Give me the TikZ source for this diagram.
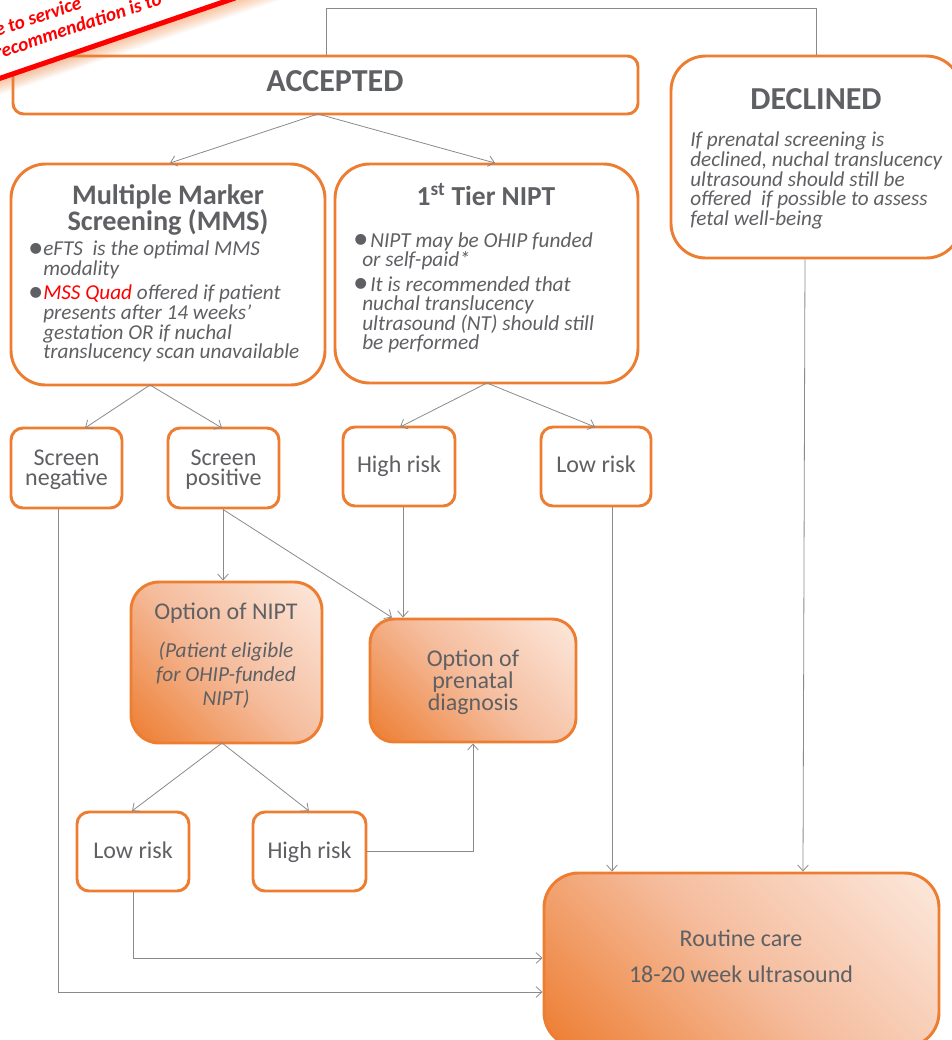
\documentclass[tikz,border=0pt]{standalone}
\usepackage{fontspec}
\setmainfont{Carlito}
\usetikzlibrary{arrows.meta,calc}
\def\u{0.75pt}
\definecolor{org}{HTML}{ED7D31}
\definecolor{lite}{HTML}{FCE8DC}
\definecolor{midc}{HTML}{F5BD9E}
\definecolor{txt}{HTML}{5F6063}
\definecolor{ln}{HTML}{8A8A8A}
\definecolor{rd}{HTML}{FF0000}
\pgfdeclareverticalshading{diagsh}{100bp}{color(0bp)=(org); color(15bp)=(org); color(50bp)=(midc); color(85bp)=(lite); color(100bp)=(lite)}
\newcommand{\pts}[2]{\fontsize{#1}{#2}\selectfont}
\newcommand{\bul}{{\pts{23}{23}\raisebox{-1pt}{•}}}
\newcommand{\fbul}{\hspace*{-7pt}\makebox[13pt][l]{\bul}}
\tikzset{
 boxa/.style={draw=org,line width=2.2pt,fill=white,inner sep=0pt,text=txt,align=center},
 shd/.style={draw=org,line width=2.2pt,inner sep=0pt,text=txt,align=center,shading=diagsh,shading angle=-45},
 small/.style={font=\pts{18}{15}},
 lab/.style={text=txt,inner sep=0pt,align=left},
 clab/.style={text=txt,inner sep=0pt,align=center},
 conn/.style={draw=ln,line width=0.6pt},
 arr/.style={conn,-{Straight Barb[length=4.5pt,width=8pt,line width=0.6pt]}}
}
\begin{document}
\begin{tikzpicture}[x=0.75pt,y=-0.75pt]
\useasboundingbox (0,0) rectangle (951,1040);
\coordinate (accapex) at (318,114);
\coordinate (mmsapex) at (150,385);
\coordinate (tierapex) at (487,383);
\coordinate (optapex) at (222,743);
% boxes
\node[boxa,rounded corners=8pt,minimum width=625*\u,minimum height=58*\u] (acc) at (325.5,85) {};
\node[boxa,rounded corners=26pt,minimum width=290*\u,minimum height=202*\u] (dec) at (816,157) {};
\node[boxa,rounded corners=26pt,minimum width=314*\u,minimum height=221*\u] (mms) at (168,274.5) {};
\node[boxa,rounded corners=26pt,minimum width=303*\u,minimum height=219*\u] (tier) at (486.5,273.5) {};
\node[boxa,rounded corners=9pt,minimum width=111*\u,minimum height=80*\u] (sneg) at (66.5,468) {};
\node[boxa,rounded corners=9pt,minimum width=111*\u,minimum height=80*\u] (spos) at (223.5,468) {};
\node[boxa,rounded corners=9pt,minimum width=112*\u,minimum height=79*\u] (hr1) at (399,466.5) {};
\node[boxa,rounded corners=9pt,minimum width=110*\u,minimum height=79*\u] (lr1) at (596,466.5) {};
\node[shd,rounded corners=21pt,minimum width=191*\u,minimum height=161*\u] (opt) at (226.5,662.5) {};
\node[shd,rounded corners=18pt,minimum width=206*\u,minimum height=123*\u] (pre) at (473,680.5) {};
\node[boxa,rounded corners=9pt,minimum width=112*\u,minimum height=79*\u] (lr2) at (133,851.5) {};
\node[boxa,rounded corners=9pt,minimum width=113*\u,minimum height=79*\u] (hr2) at (309.5,851.5) {};
\node[shd,rounded corners=26pt,minimum width=395*\u,minimum height=174*\u] (rc) at (741.5,960) {};
% text labels
\node[clab,small] (snegT) at (66.5,470) {Screen\\negative};
\node[clab,small] (sposT) at (223.5,470) {Screen\\positive};
\node[clab,small] (hr1T) at (399,466) {High risk};
\node[clab,small] (lr1T) at (596,464.5) {Low risk};
\node[clab,small] (lr2T) at (133,850.5) {Low risk};
\node[clab,small] (hr2T) at (309.5,852) {High risk};
\node[clab,font=\pts{18}{16.5}] (preT) at (473,682) {Option of\\prenatal\\diagnosis};
\node[clab,font=\pts{24}{24}\bfseries] (accT) at (335,81) {ACCEPTED};
\node[clab,font=\pts{24}{24}\bfseries] (decT) at (816,99) {DECLINED};
\node[lab,anchor=north west,font=\pts{15.9}{14.7}\itshape] (decB) at (690,132) {If prenatal screening is\\declined, nuchal translucency\\ultrasound should still be\\offered\ \ if possible to assess\\fetal well-being};
\node[clab,font=\pts{21.2}{19.5}\bfseries] (mmsT) at (168,210) {Multiple Marker\\Screening (MMS)};
\node[lab,anchor=north west,font=\pts{15.9}{14.7}\itshape] (mmsB1) at (43,241) {\llap{\bul}eFTS\ \ is the optimal MMS\\modality};
\node[lab,anchor=north west,font=\pts{15.9}{14.7}\itshape] (mmsB2) at (43,285) {\llap{\bul}\textcolor{rd}{MSS Quad} offered if patient\\presents after 14 weeks’\\gestation OR if nuchal\\translucency scan unavailable};
\node[clab,font=\pts{20.6}{20.6}\bfseries] (tierT) at (486,195) {1\textsuperscript{st} Tier NIPT};
\node[lab,anchor=north west,font=\pts{16}{14.7}\itshape] (tierB1) at (362,232) {\fbul NIPT may be OHIP funded\\or self-paid*};
\node[lab,anchor=north west,font=\pts{16}{14.7}\itshape] (tierB2) at (362,276) {\fbul It is recommended that\\nuchal translucency\\ultrasound (NT) should still\\be performed};
\node[clab,font=\pts{18}{18}] (optT) at (226,613) {Option of NIPT};
\node[clab,font=\pts{16}{18}\itshape] (optB) at (226,675) {(Patient eligible\\for OHIP-funded\\NIPT)};
\node[clab,font=\pts{18}{27}] (rcT) at (741,956) {Routine care\\18-20 week ultrasound};
% connectors
\draw[conn] ([xshift=0.5*\u]acc.north) -- (326,8) -| (dec.north);
\draw[arr] (accapex) -- (170,163);
\draw[arr] (accapex) -- (495,163);
\draw[arr] (mmsapex) -- (85,428);
\draw[arr] (mmsapex) -- (222,428);
\draw[arr] (tierapex) -- (400,427);
\draw[arr] (tierapex) -- (595,427);
\draw[arr] (spos.south -| 223,0) -- (opt.north -| 223,0);
\draw[arr] (spos.south -| 223,0) -- ([xshift=-81*\u]pre.north);
\draw[arr] (hr1.south -| 403,0) -- (pre.north -| 403,0);
\draw[arr] (lr1.south -| 612,0) -- (rc.north -| 612,0);
\draw[arr] (dec.south -| 805,0) -- (rc.north -| 803,0);
\draw[arr] (optapex) -- (132,811);
\draw[arr] (optapex) -- (309,811);
\draw[arr] (hr2.east) -| (pre.south);
\draw[arr] (lr2.south) |- (rc.west |- 0,958);
\draw[arr] (sneg.south -| 58,0) |- (rc.west |- 0,992);
% banner
\fill[white] (-5,80) -- (235,-2) -- (-5,-2) -- cycle;
\begin{scope}[shift={(0,78)},rotate=18.7]
 \foreach \i in {2,3,...,16}{\fill[org,opacity=0.04] (-10,0) rectangle (300,\i);}
\end{scope}
\draw[rd,line width=3.8pt] (-5,80) -- (235,-2);
\node[text=rd,inner sep=0pt,anchor=base west,rotate=18.7,font=\pts{14.5}{14.5}\bfseries\itshape] (ban1) at (-3,37) {e to service};
\node[text=rd,inner sep=0pt,anchor=base west,rotate=18.7,font=\pts{14.5}{14.5}\bfseries\itshape] (ban2) at (-3,60) {recommendation is to};
\end{tikzpicture}
\end{document}
